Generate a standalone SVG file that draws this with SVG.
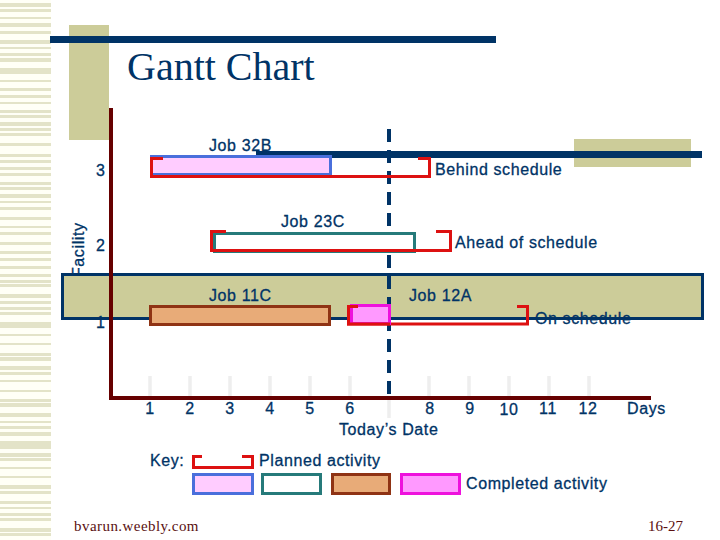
<svg xmlns="http://www.w3.org/2000/svg" width="720" height="540" viewBox="0 0 720 540">
<style>
text{font-family:"Liberation Sans",Arial,sans-serif;font-size:16px;fill:#003366;stroke:#003366;stroke-width:.3;letter-spacing:.6px}
.mid{text-anchor:middle}
.ser{font-family:"Liberation Serif","Times New Roman",serif;fill:#5a1010;stroke:none}
.olive{fill:#cccc99}
.navy{fill:#003366}
.axis{fill:#660000}
.tick{stroke:#eeeeee;stroke-width:3.5;fill:none}
.plan{fill:none;stroke:#dd1111;stroke-width:3}
.a{fill:#ffccff;stroke:#4a6fdc;stroke-width:3}
.b{fill:#ffffff;stroke:#267a7a;stroke-width:3}
.c{fill:#e8ab78;stroke:#8f3314;stroke-width:3}
.d{fill:#ff99ff;stroke:#ee11dd;stroke-width:3}
</style>
<g id="background">
<rect x="0" y="0" width="51" height="540" fill="#fffff6"/>
<path fill="#e3e3c8" d="M0 3h51v4H0zM0 9h51v3H0zM0 17h51v2H0zM0 23h51v4H0zM0 31h51v3H0zM0 40h51v4H0zM0 47h51v2H0zM0 53h51v3H0zM0 58h51v4H0zM0 68h51v6H0zM0 80h51v2H0zM0 88h51v3H0zM0 95h51v3H0zM0 102h51v2H0zM0 110h51v3H0zM0 115h51v3H0zM0 122h51v4H0zM0 128h51v3H0zM0 133h51v3H0zM0 143h51v3H0zM0 154h51v3H0zM0 160h51v3H0zM0 167h51v3H0zM0 173h51v3H0zM0 182h51v3H0zM0 187h51v3H0zM0 194h51v4H0zM0 201h51v2H0zM0 207h51v3H0zM0 217h51v3H0zM0 226h51v2H0zM0 232h51v3H0zM0 242h51v3H0zM0 251h51v3H0zM0 258h51v3H0zM0 266h51v3H0zM0 274h51v3H0z"/>
<path fill="#e3e3c8" d="M0 280h51v3H0zM0 284h51v3H0zM0 294h51v4H0zM0 301h51v3H0zM0 307h51v3H0zM0 312h51v3H0zM0 322h51v6H0zM0 334h51v2H0zM0 343h51v2H0zM0 353h51v3H0zM0 357h51v4H0zM0 366h51v4H0zM0 372h51v3H0zM0 380h51v2H0zM0 390h51v2H0zM0 399h51v3H0zM0 403h51v4H0zM0 413h51v4H0zM0 421h51v2H0zM0 426h51v3H0zM0 432h51v4H0zM0 441h51v5H0zM0 446h51v3H0zM0 453h51v4H0zM0 458h51v3H0zM0 467h51v2H0zM0 476h51v2H0zM0 485h51v4H0zM0 491h51v3H0zM0 501h51v3H0zM0 507h51v2H0zM0 513h51v3H0zM0 518h51v3H0zM0 528h51v4H0zM0 533h51v3H0z"/>
<rect class="olive" x="69" y="25" width="40" height="115"/>
<rect class="navy" x="50" y="36" width="446" height="7"/>
<rect class="olive" x="574" y="139" width="117" height="28"/>
<rect x="62.500" y="274.500" width="640" height="44" class="olive" stroke="#003366" stroke-width="3"/>
<rect class="navy" x="256" y="151" width="446" height="7"/>
</g>
<text id="title" x="127" y="80" class="ser" style="font-size:40px;fill:#003366;letter-spacing:0">Gantt Chart</text>
<g id="connectors">
<path d="M389 129V396" fill="none" stroke="#003366" stroke-width="4" stroke-dasharray="13 8"/>
</g>
<g id="axes">
<path class="tick" d="M150 376v20M190 376v20M230 376v20M270 376v20M310 376v20M350 376v20M389 396v22M429 376v20M469 376v20M509 376v20M549 376v20M589 376v20"/>
<rect class="axis" x="109" y="108" width="4" height="292"/>
<rect class="axis" x="109" y="396" width="542" height="4"/>
<text x="84" y="277" transform="rotate(-90 84 277)">Facility</text>
<text x="96" y="176">3</text>
<text x="96" y="251">2</text>
<text x="96" y="328">1</text>
<text class="mid" x="150" y="414">1</text>
<text class="mid" x="190" y="414">2</text>
<text class="mid" x="230" y="414">3</text>
<text class="mid" x="270" y="414">4</text>
<text class="mid" x="310" y="414">5</text>
<text class="mid" x="350" y="414">6</text>
<text class="mid" x="430" y="414">8</text>
<text class="mid" x="470" y="414">9</text>
<text class="mid" x="509" y="415">10</text>
<text class="mid" x="548" y="414">11</text>
<text class="mid" x="588" y="414">12</text>
<text x="627" y="414">Days</text>
<text x="339" y="435">Today’s Date</text>
</g>
<g id="job-32B">
<text x="209" y="151">Job 32B</text>
<rect class="a" x="151.500" y="156.500" width="179" height="18"/>
<path class="plan" d="M163 158.500H151.500V176.500H429.500V158.500H418"/>
<text x="435" y="175">Behind schedule</text>
</g>
<g id="job-23C">
<text x="281" y="227">Job 23C</text>
<rect class="b" x="214.500" y="233.500" width="200" height="18"/>
<path class="plan" d="M226 231.500H211.500V250.500H450.500V231.500H436"/>
<text x="455" y="248">Ahead of schedule</text>
</g>
<g id="job-11C">
<text x="209" y="301">Job 11C</text>
<rect class="c" x="150.500" y="306.500" width="179" height="18"/>
</g>
<g id="job-12A">
<text x="409" y="301">Job 12A</text>
<path class="plan" d="M358 306.500H348.500V324H527.500V306.500H517"/>
<rect class="d" x="351.500" y="305.500" width="38" height="18"/>
<path class="plan" d="M358 306.500H348.500V324H390"/>
<text x="535" y="324">On schedule</text>
</g>
<g id="key">
<text x="150" y="466">Key:</text>
<path class="plan" d="M202 456.500H193.500V467.500H252.500V456.500H242"/>
<text x="259" y="466">Planned activity</text>
<rect class="a" x="193.500" y="474.500" width="59" height="19"/>
<rect class="b" x="262.500" y="474.500" width="58" height="19"/>
<rect class="c" x="332.500" y="474.500" width="57" height="19"/>
<rect class="d" x="401.500" y="474.500" width="58" height="19"/>
<text x="466" y="489">Completed activity</text>
</g>
<g id="footer">
<text class="ser" x="74" y="531" style="font-size:15px;letter-spacing:.45px">bvarun.weebly.com</text>
<text class="ser" x="648" y="531" style="font-size:15px;letter-spacing:0">16-27</text>
</g>
</svg>
